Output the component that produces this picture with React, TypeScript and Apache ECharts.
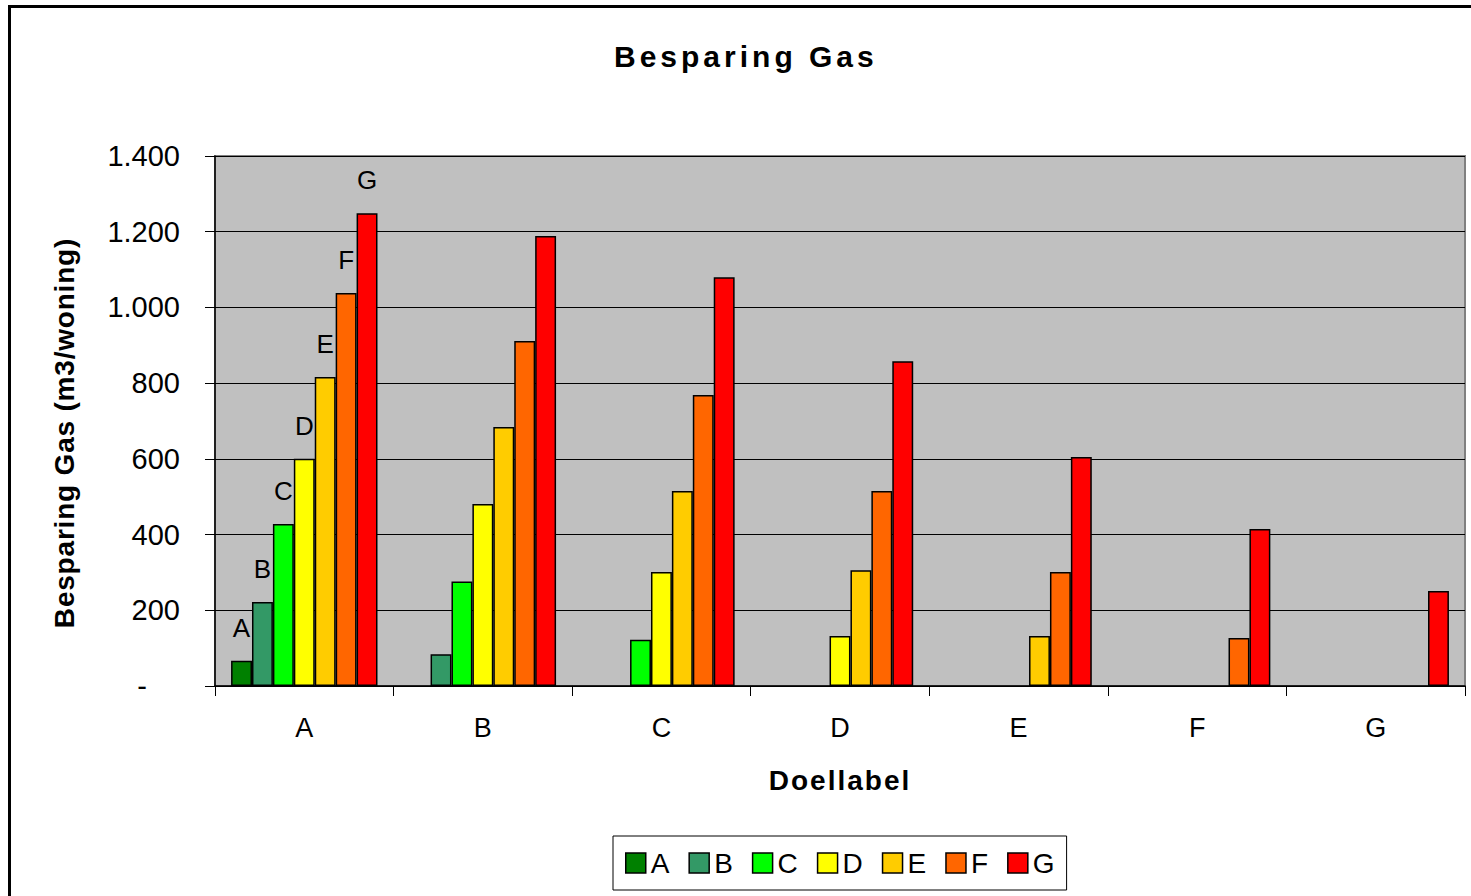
import React, { useEffect, useRef } from "react";
import * as echarts from "echarts";

const categories = ["A", "B", "C", "D", "E", "F", "G"];
const seriesNames = ["A", "B", "C", "D", "E", "F", "G"];
const seriesColors = ["#008000", "#339966", "#00FF00", "#FFFF00", "#FFCC00", "#FF6600", "#FF0000"];

const valuesA = [67, null, null, null, null, null, null];
const valuesB = [222, 84, null, null, null, null, null];
const valuesC = [428, 276, 122, null, null, null, null];
const valuesD = [600, 481, 301, 132, null, null, null];
const valuesE = [816, 684, 515, 306, 132, null, null];
const valuesF = [1038, 911, 769, 515, 301, 127, null];
const valuesG = [1249, 1189, 1080, 858, 605, 415, 251];
const seriesValues = [valuesA, valuesB, valuesC, valuesD, valuesE, valuesF, valuesG];

const yTicks = { min: 0, max: 1400, interval: 200 };

const FONT = '"Liberation Sans", Arial, sans-serif';

const spacingMap: Record<string, string> = {
  "Besparing Gas": "4",
  "Doellabel": "2",
  "Besparing Gas (m3/woning)": "0.8",
};

function fmt(v: number) {
  if (v === 0) return "{z|-}";
  return String(v).replace(/\B(?=(\d{3})+(?!\d))/g, ".");
}

export default function App() {
  const ref = useRef<HTMLDivElement>(null);
  useEffect(() => {
    if (!ref.current) return;
    const chart = echarts.init(ref.current, null, { renderer: "svg" });
    const option: any = {
      animation: false,
      backgroundColor: "#ffffff",
      textStyle: { fontFamily: FONT, color: "#000" },
      title: {
        text: "Besparing Gas",
        left: 614,
        top: 41,
        padding: 0,
        textStyle: { fontFamily: FONT, fontSize: 30, fontWeight: "bold", color: "#000" },
      },
      grid: {
        left: 215,
        right: 6,
        top: 156,
        bottom: 210,
        show: true,
        backgroundColor: "#C0C0C0",
        borderColor: "#808080",
        borderWidth: 2,
      },
      xAxis: {
        type: "category",
        data: categories,
        boundaryGap: true,
        axisLine: { lineStyle: { color: "#000", width: 1.5 } },
        axisTick: { show: true, length: 10, lineStyle: { color: "#000", width: 1 } },
        axisLabel: { fontFamily: FONT, fontSize: 27, color: "#000", margin: 28 },
        name: "Doellabel",
        nameLocation: "middle",
        nameGap: 80,
        nameTextStyle: { fontFamily: FONT, fontSize: 28, fontWeight: "bold", color: "#000" },
      },
      yAxis: {
        type: "value",
        min: yTicks.min,
        max: yTicks.max,
        interval: yTicks.interval,
        axisLine: { show: true, lineStyle: { color: "#000", width: 1.5 } },
        axisTick: { show: true, length: 10, lineStyle: { color: "#000", width: 1 } },
        splitLine: { show: true, lineStyle: { color: "#000", width: 1 } },
        axisLabel: {
          fontFamily: FONT,
          fontSize: 29,
          color: "#000",
          margin: 35,
          formatter: fmt,
          rich: { z: { fontFamily: FONT, fontSize: 29, color: "#000", padding: [0, 33, 0, 0] } },
        },
        name: "Besparing Gas (m3/woning)",
        nameLocation: "middle",
        nameRotate: 90,
        nameGap: 137,
        nameTextStyle: {
          fontFamily: FONT,
          fontSize: 28,
          fontWeight: "bold",
          color: "#000",
          padding: [0, 24, 0, 0],
        },
      },
      legend: {
        data: seriesNames,
        left: 613,
        top: 836,
        orient: "horizontal",
        padding: [13, 12, 13, 12],
        itemWidth: 20,
        itemHeight: 20,
        itemGap: 19,
        borderColor: "#000",
        borderWidth: 1,
        icon: "rect",
        itemStyle: { borderColor: "#000", borderWidth: 1.5 },
        textStyle: { fontFamily: FONT, fontSize: 28, color: "#000" },
      },
      graphic: [
        {
          type: "rect",
          shape: { x: 9.5, y: 6.5, width: 1600, height: 1000 },
          style: { fill: "none", stroke: "#000", lineWidth: 3 },
          silent: true,
        },
      ],
      series: seriesNames.map((name, si) => ({
        name,
        type: "bar",
        barGap: "0%",
        barCategoryGap: "18%",
        itemStyle: { color: seriesColors[si], borderColor: "#000", borderWidth: 1.5 },
        data: seriesValues[si].map((v, ci) =>
          ci === 0 && v != null
            ? {
                value: v,
                label: {
                  show: true,
                  position: "top",
                  distance: 20,
                  formatter: name,
                  fontFamily: FONT,
                  fontSize: 26,
                  color: "#000",
                },
              }
            : v
        ),
      })),
    };
    chart.setOption(option);

    const applySpacing = () => {
      const dom = ref.current;
      if (!dom) return;
      dom.querySelectorAll("text").forEach((t) => {
        const s = spacingMap[(t.textContent || "").trim()];
        if (s) t.setAttribute("letter-spacing", s);
      });
    };
    chart.on("finished", applySpacing);
    applySpacing();
    const raf = requestAnimationFrame(applySpacing);
    const tm = setTimeout(applySpacing, 50);

    return () => {
      cancelAnimationFrame(raf);
      clearTimeout(tm);
      chart.dispose();
    };
  }, []);
  return (
    <div
      ref={ref}
      style={{ position: "absolute", left: 0, top: 0, width: 1471, height: 896 }}
    />
  );
}
